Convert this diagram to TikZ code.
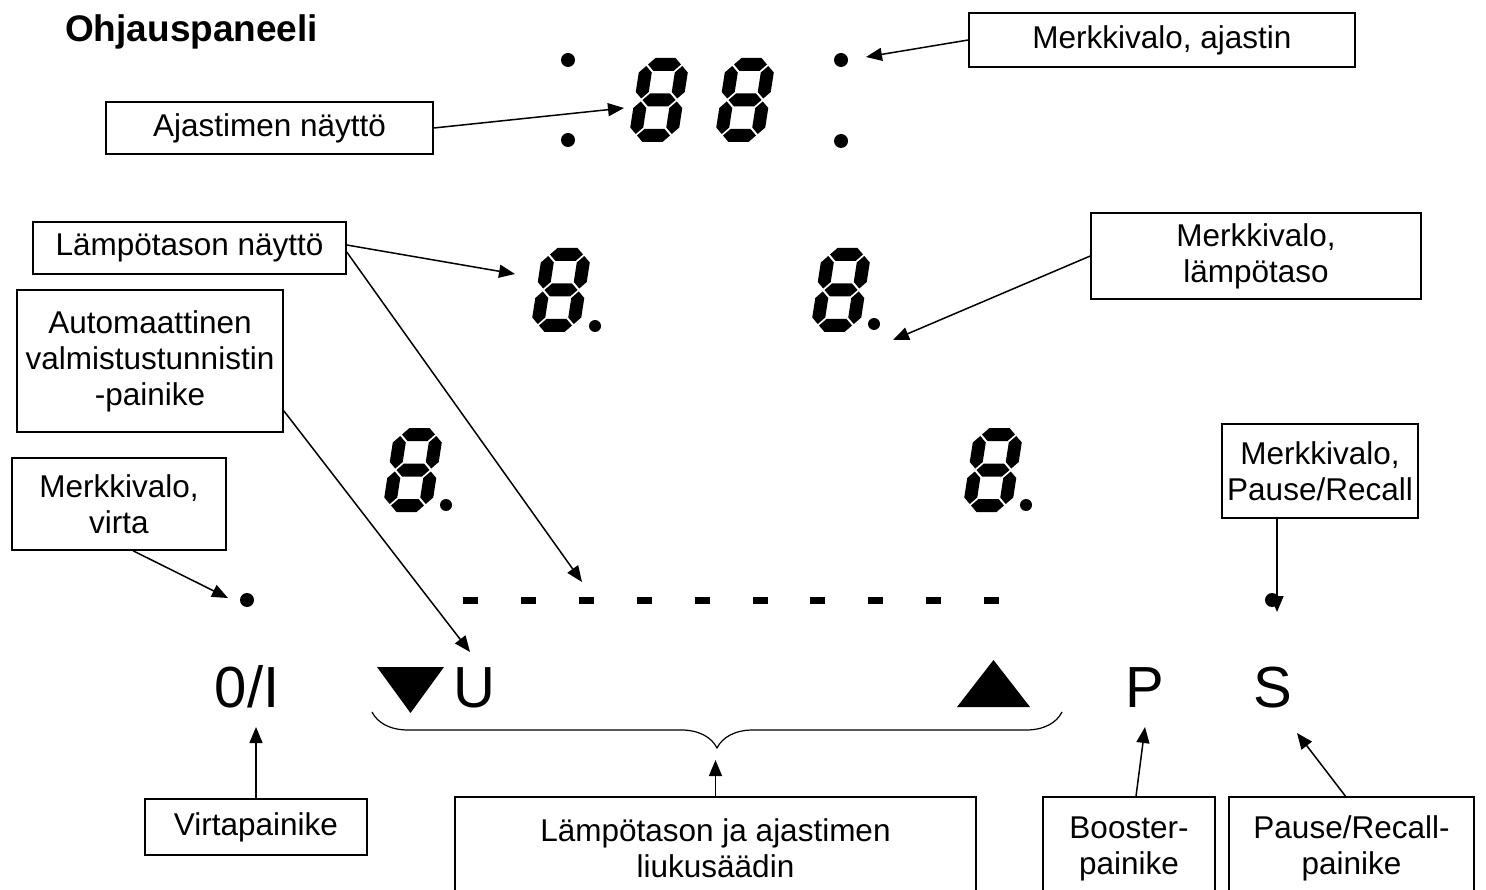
\documentclass[tikz,border=0pt]{standalone}
\usepackage{fontspec}
\setmainfont{Liberation Sans}
\usetikzlibrary{arrows.meta,decorations.pathreplacing}

\tikzset{
  lbl/.style={draw, line width=1.5pt, align=center, inner sep=0pt, font=\fontsize{31.5}{36}\selectfont},
  key/.style={anchor=base, inner sep=0pt, font=\fontsize{58}{60}\selectfont},
  led/.style={circle, fill, inner sep=0pt, minimum size=#1},
  led/.default=14pt,
  pointer/.style={line width=1.5pt, -{Triangle[length=16pt,width=13pt]}},
  % pics drop the yscale=-1 of the picture: y runs upwards in here
  segdigit/.pic={
    \begin{scope}[xslant=0.155]
    \foreach \yc in {6.5,42,77.5}
      \fill (8,\yc) -- (14.5,\yc+6.5) -- (34.5,\yc+6.5) -- (41,\yc) -- (34.5,\yc-6.5) -- (14.5,\yc-6.5) -- cycle;
    \foreach \xc in {6.5,42.5}
      \foreach \ya in {6.5,42}
        \fill (\xc,\ya+1.5) -- (\xc+6.5,\ya+8) -- (\xc+6.5,\ya+27.5) -- (\xc,\ya+34) -- (\xc-6.5,\ya+27.5) -- (\xc-6.5,\ya+8) -- cycle;
    \end{scope}
  }
}

\begin{document}
\begin{tikzpicture}[x=1pt,y=1pt,yscale=-1]
	\useasboundingbox (0,0) rectangle (1486,890);

	\node[anchor=base west, inner sep=0pt, font=\fontsize{37}{40}\selectfont\bfseries] (title) at (65,42) {Ohjauspaneeli};

	% displays
	\pic (tdig1) at (628,142) {segdigit};
	\pic (tdig2) at (714,142) {segdigit};
	\pic (hdig1) at (530,332) {segdigit};
	\pic (hdig2) at (810,332) {segdigit};
	\pic (hdig3) at (382,512) {segdigit};
	\pic (hdig4) at (962,512) {segdigit};

	\node[led] (ledtl) at (568,60) {};
	\node[led] (ledbl) at (568,140) {};
	\node[led] (ledtr) at (841,60) {};
	\node[led] (ledbr) at (841,141) {};
	\node[led=12pt] (dp1) at (595,326) {};
	\node[led=12pt] (dp2) at (874,324) {};
	\node[led=12pt] (dp3) at (446,505) {};
	\node[led=12pt] (dp4) at (1026,505) {};
	\node[led] (ledpower) at (247,600) {};
	\node[led] (ledpause) at (1272,600) {};

	% slider
	\foreach \i in {0,...,9}
		\fill ({463+57.9*\i},597) rectangle ++(15,7);
	\fill (377,667) -- (444,667) -- (410.5,713) -- cycle;
	\fill (957,707) -- (1030,707) -- (993.5,660) -- cycle;

	\node[key] (onoff) at (247,707) {0/I};
	\node[key] (ubtn) at (474,707) {U};
	\node[key] (pbtn) at (1145,707) {P};
	\node[key] (sbtn) at (1273,707) {S};

	\coordinate (brace-l) at (372,712);
	\coordinate (brace-r) at (1062,712);
	\draw[line width=1.2pt, decorate, decoration={brace, mirror, amplitude=36pt}] (brace-l) -- (brace-r);

	% labels
	\node[lbl, minimum width=386pt, minimum height=54pt] (mkajastin) at (1162,40) {Merkkivalo, ajastin};
	\node[lbl, minimum width=327pt, minimum height=52pt] (ajnaytto) at (269.5,128) {Ajastimen näyttö};
	\node[lbl, minimum width=313pt, minimum height=52pt] (lpnaytto) at (189.5,248) {Lämpötason näyttö};
	\node[lbl, minimum width=330pt, minimum height=86pt] (mklampo) at (1256,256) {Merkkivalo,\\lämpötaso};
	\node[lbl, minimum width=266pt, minimum height=142pt] (autobtn) at (150,361) {Automaattinen\\valmistustunnistin\\-painike};
	\node[lbl, minimum width=214pt, minimum height=92pt] (mkvirta) at (119,504) {Merkkivalo,\\virta};
	\node[lbl, minimum width=196pt, minimum height=94pt] (mkpause) at (1320,471) {Merkkivalo,\\Pause/Recall};
	\node[lbl, minimum width=222pt, minimum height=56pt] (virtabtn) at (256,827) {Virtapainike};
	\node[lbl, minimum width=521pt, minimum height=103pt] (slider) at (715.5,848.5) {Lämpötason ja ajastimen\\liukusäädin};
	\node[lbl, minimum width=172pt, minimum height=103pt] (booster) at (1129,848.5) {Booster-\\painike};
	\node[lbl, minimum width=245pt, minimum height=103pt] (pausebtn) at (1351.5,848.5) {Pause/Recall-\\painike};

	% arrow ends
	\coordinate (to-ledtimer) at (866,57);
	\coordinate (to-timerdig) at (624,108);
	\coordinate (to-heatdig) at (515,274);
	\coordinate (to-slider) at (582,582);
	\coordinate (to-ledheat) at (893,340);
	\coordinate (to-ubtn) at (470,652);
	\coordinate (to-ledpower) at (228,598);
	\coordinate (to-ledpause) at (1277,612);
	\coordinate (to-onoff) at (256,727);
	\coordinate (to-brace) at (715.5,760);
	\coordinate (to-pbtn) at (1145,727);
	\coordinate (to-sbtn) at (1297,733);

	\draw[pointer] (mkajastin.west) -- (to-ledtimer);
	\draw[pointer] (ajnaytto.east) -- (to-timerdig);
	\draw[pointer] ([yshift=-3pt]lpnaytto.east) -- (to-heatdig);
	\draw[pointer] ([yshift=4pt]lpnaytto.east) -- (to-slider);
	\draw[pointer] (mklampo.west) -- (to-ledheat);
	\draw[pointer] ([yshift=-22pt]autobtn.south east) -- (to-ubtn);
	\draw[pointer] ([xshift=14pt]mkvirta.south) -- (to-ledpower);
	\draw[pointer] (mkpause.south -| to-ledpause) -- (to-ledpause);
	\draw[pointer] (virtabtn.north) -- (to-onoff);
	\draw[pointer] (slider.north) -- (to-brace);
	\draw[pointer] ([xshift=7pt]booster.north) -- (to-pbtn);
	\draw[pointer] ([xshift=-6pt]pausebtn.north) -- (to-sbtn);
\end{tikzpicture}
\end{document}
